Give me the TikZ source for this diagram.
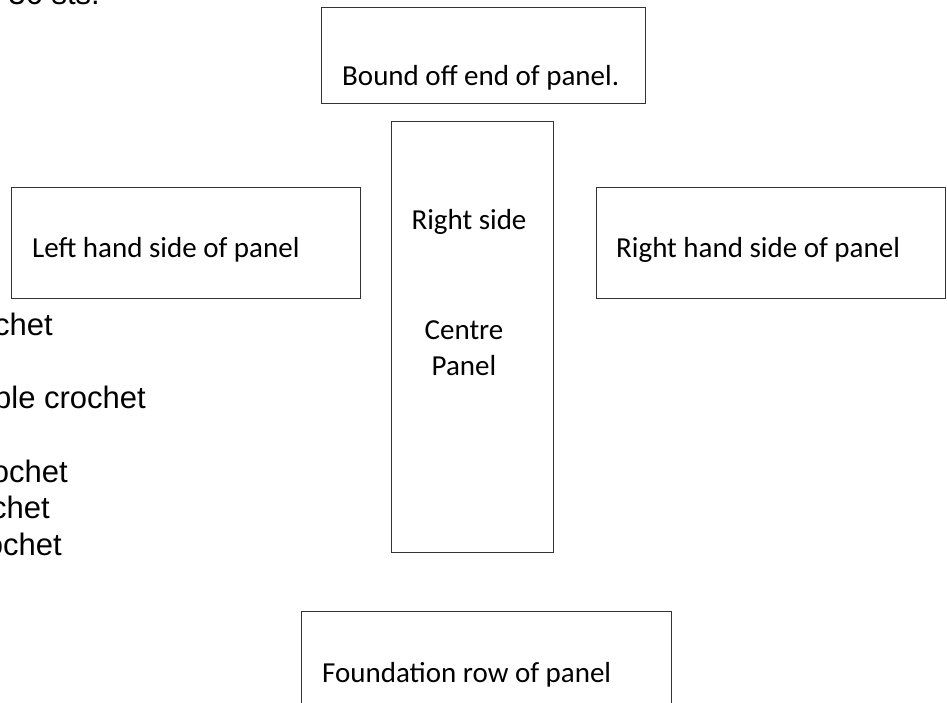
\documentclass[tikz,border=0pt]{standalone}
\usepackage{fontspec}
\setmainfont{Carlito}
\newfontfamily\notefont{Liberation Sans}
\usetikzlibrary{positioning}
\begin{document}
\begin{tikzpicture}[x=1pt,y=-1pt,
panel/.style={draw=black!80,line width=1pt,rectangle,inner sep=0pt},
boxtext/.style={anchor=base west,inner sep=0pt,font=\fontsize{29}{34}\selectfont},
note/.style={anchor=base east,inner sep=0pt,font=\notefont\fontsize{31}{36}\selectfont}]
\useasboundingbox (0,0) rectangle (947,703);

\node [panel,minimum width=324,minimum height=96] (boundoff) at (483,56) {};
\node [panel,minimum width=349,minimum height=110] (lefthand) at (185.5,243) {};
\node [panel,minimum width=162,minimum height=430] (centre) at (472,337) {};
\node [panel,minimum width=349,minimum height=110] (righthand) at (771,243) {};
\node [panel,minimum width=370,minimum height=110] (foundation) at (486,666) {};

\node [boxtext] (boundofftext) at (342,86) {Bound off end of panel.};
\node [boxtext] (lefttext) at (32,258) {Left hand side of panel};
\node [boxtext] (righttext) at (616,258) {Right hand side of panel};
\node [boxtext,anchor=base] (rightside) at (469,230) {Right side};
\node [boxtext,anchor=base] (centretext) at (464,339) {Centre};
\node [boxtext,anchor=base] (paneltext) at (464,375) {Panel};
\node [boxtext] (foundationtext) at (322,682) {Foundation row of panel};

\node [note] (topnote) at (100,5) {36 sts.};
\node [note] (noteone) at (53,335) {chet};
\node [note] (notetwo) at (146,408) {ble crochet};
\node [note] (notethree) at (68,482) {ochet};
\node [note] (notefour) at (50,518) {chet};
\node [note] (notefive) at (62,555) {ochet};
\end{tikzpicture}
\end{document}
